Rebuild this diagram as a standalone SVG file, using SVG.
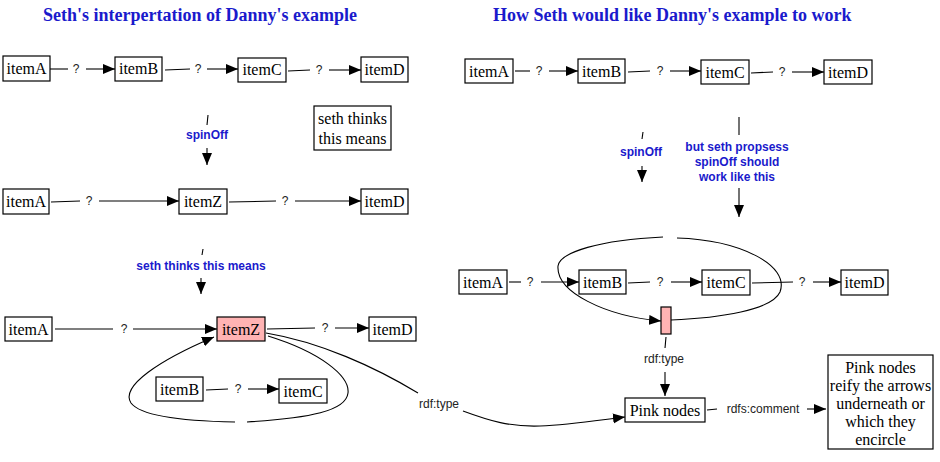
<svg xmlns="http://www.w3.org/2000/svg" width="940" height="462" viewBox="0 0 940 462">
<defs>
<marker id="ah" markerUnits="userSpaceOnUse" markerWidth="13" markerHeight="11" refX="12" refY="5" orient="auto">
<path d="M0,0 L12,5 L0,10 z" fill="#000"/>
</marker>
<style>
.n rect{fill:#fff;stroke:#000;stroke-width:1.2}
.n rect.pink{fill:#ffb3b3}
.n text{font-family:"Liberation Serif","Times New Roman",serif;font-size:16px;fill:#000;text-anchor:middle}
.title{font-family:"Liberation Serif","Times New Roman",serif;font-size:18px;font-weight:bold;fill:#1a1acc}
.c path,.c line{fill:none;stroke:#000;stroke-width:1.1}
.c .a{marker-end:url(#ah)}
.lbl{font-family:"Liberation Sans",Arial,sans-serif;font-size:12px;fill:#222;text-anchor:middle}
.blbl{font-family:"Liberation Sans",Arial,sans-serif;font-size:12px;font-weight:bold;fill:#1a1acc;text-anchor:middle}
</style>
</defs>
<rect width="940" height="462" fill="#fff"/>
<text class="title" x="43" y="21">Seth's interpertation of Danny's example</text>
<text class="title" x="493" y="21">How Seth would like Danny's example to work</text>

<g class="c" id="connectors">
<!-- left row 1 -->
<line x1="50" y1="69" x2="68" y2="69"/><line class="a" x1="86" y1="69" x2="115" y2="69"/>
<line x1="165" y1="70" x2="190" y2="69"/><line class="a" x1="207" y1="69" x2="238" y2="69"/>
<line x1="288" y1="71" x2="310" y2="70"/><line class="a" x1="329" y1="70" x2="361" y2="70"/>
<!-- spinOff left -->
<line x1="208" y1="115" x2="207" y2="125"/><line class="a" x1="207" y1="148" x2="207" y2="165"/>
<!-- left row 2 -->
<line x1="51" y1="202" x2="80" y2="201"/><line class="a" x1="99" y1="201" x2="179" y2="201"/>
<line x1="229" y1="202" x2="276" y2="201"/><line class="a" x1="295" y1="201" x2="361" y2="201"/>
<!-- seth thinks -->
<line x1="203" y1="249" x2="202" y2="255"/><line class="a" x1="201" y1="278" x2="201" y2="294"/>
<!-- left row 3 -->
<line x1="55" y1="329" x2="113" y2="329"/><line class="a" x1="133" y1="329" x2="217" y2="329"/>
<line x1="267" y1="329" x2="315" y2="328"/><line class="a" x1="335" y1="328" x2="369" y2="328"/>
<line x1="206" y1="390" x2="228" y2="389"/><line class="a" x1="248" y1="389" x2="279" y2="389"/>
<!-- loop left -->
<path d="M268,336 C320,352 350,376 348,393 C346,411 310,418 247,422"/>
<path class="a" d="M235,422 C180,421 140,415 131,403 C120,386 160,360 214,337"/>
<!-- rdf:type long -->
<path d="M266,333 C320,342 375,367 418,393"/>
<path class="a" d="M463,411 C490,421 510,427 540,426 C570,425 600,420 625,417"/>
<!-- right row 1 -->
<line x1="515" y1="71" x2="530" y2="71"/><line class="a" x1="549" y1="71" x2="578" y2="71"/>
<line x1="628" y1="72" x2="650" y2="71"/><line class="a" x1="670" y1="71" x2="701" y2="71"/>
<line x1="751" y1="73" x2="773" y2="72"/><line class="a" x1="792" y1="72" x2="824" y2="72"/>
<!-- spinOff right -->
<line x1="643" y1="132" x2="642" y2="139"/><line class="a" x1="642" y1="166" x2="642" y2="182"/>
<line x1="739" y1="117" x2="739" y2="135"/><line class="a" x1="739" y1="188" x2="739" y2="217"/>
<!-- right row 2 -->
<line x1="509" y1="282" x2="521" y2="282"/><line class="a" x1="541" y1="282" x2="579" y2="282"/>
<line x1="628" y1="283" x2="650" y2="282"/><line class="a" x1="671" y1="282" x2="702" y2="282"/>
<line x1="752" y1="283" x2="793" y2="282"/><line class="a" x1="813" y1="282" x2="841" y2="282"/>
<!-- loop right -->
<path d="M671,320 C720,318 772,310 780,292 C790,265 740,240 677,238"/>
<path class="a" d="M663,237 C600,240 560,252 558,266 C556,292 605,316 661,321"/>
<!-- rdf:type right -->
<line x1="666" y1="337" x2="665" y2="348"/><line class="a" x1="665" y1="372" x2="665" y2="396"/>
<!-- rdfs:comment -->
<line x1="707" y1="410" x2="717" y2="409"/><line class="a" x1="807" y1="409" x2="826" y2="409"/>
</g>

<g id="labels">
<text class="lbl" x="76" y="73">?</text>
<text class="lbl" x="198" y="73">?</text>
<text class="lbl" x="319" y="74">?</text>
<text class="blbl" x="207" y="139">spinOff</text>
<text class="lbl" x="89" y="205">?</text>
<text class="lbl" x="285" y="205">?</text>
<text class="blbl" x="201" y="270">seth thinks this means</text>
<text class="lbl" x="124" y="333">?</text>
<text class="lbl" x="325" y="332">?</text>
<text class="lbl" x="238" y="393">?</text>
<text class="lbl" x="439" y="408">rdf:type</text>
<text class="lbl" x="539" y="75">?</text>
<text class="lbl" x="660" y="75">?</text>
<text class="lbl" x="782" y="76">?</text>
<text class="blbl" x="641" y="156">spinOff</text>
<text class="blbl" x="737" y="151">but seth propsess</text>
<text class="blbl" x="737" y="166">spinOff should</text>
<text class="blbl" x="737" y="181">work like this</text>
<text class="lbl" x="530" y="286">?</text>
<text class="lbl" x="660" y="286">?</text>
<text class="lbl" x="802" y="286">?</text>
<text class="lbl" x="664" y="363">rdf:type</text>
<text class="lbl" x="763" y="413">rdfs:comment</text>
</g>

<g class="n" id="L1A"><rect x="3" y="56" width="47" height="25"/><text x="26.5" y="74">itemA</text></g>
<g class="n" id="L1B"><rect x="115" y="57" width="47" height="24"/><text x="138.5" y="74">itemB</text></g>
<g class="n" id="L1C"><rect x="238" y="58" width="48" height="24"/><text x="262" y="75">itemC</text></g>
<g class="n" id="L1D"><rect x="361" y="57" width="47" height="25"/><text x="384.5" y="75">itemD</text></g>
<g class="n" id="sethBox"><rect x="314" y="106" width="77" height="44"/><text x="352.5" y="124">seth thinks</text><text x="352.5" y="144">this means</text></g>
<g class="n" id="L2A"><rect x="3" y="189" width="46" height="25"/><text x="26" y="207">itemA</text></g>
<g class="n" id="L2Z"><rect x="179" y="189" width="48" height="25"/><text x="203" y="207">itemZ</text></g>
<g class="n" id="L2D"><rect x="361" y="189" width="47" height="25"/><text x="384.5" y="207">itemD</text></g>
<g class="n" id="L3A"><rect x="5" y="317" width="47" height="24"/><text x="28.5" y="335">itemA</text></g>
<g class="n" id="L3Z"><rect class="pink" x="217" y="317" width="48" height="24"/><text x="241" y="335">itemZ</text></g>
<g class="n" id="L3D"><rect x="369" y="317" width="47" height="24"/><text x="392.5" y="335">itemD</text></g>
<g class="n" id="L3B"><rect x="156" y="377" width="47" height="24"/><text x="179.5" y="395">itemB</text></g>
<g class="n" id="L3C"><rect x="279" y="379" width="48" height="24"/><text x="303" y="397">itemC</text></g>

<g class="n" id="R1A"><rect x="465" y="59" width="48" height="24"/><text x="489" y="77">itemA</text></g>
<g class="n" id="R1B"><rect x="578" y="59" width="47" height="24"/><text x="601.5" y="77">itemB</text></g>
<g class="n" id="R1C"><rect x="701" y="60" width="48" height="24"/><text x="725" y="78">itemC</text></g>
<g class="n" id="R1D"><rect x="824" y="60" width="48" height="24"/><text x="848" y="78">itemD</text></g>
<g class="n" id="R2A"><rect x="459" y="270" width="48" height="24"/><text x="483" y="288">itemA</text></g>
<g class="n" id="R2B"><rect x="579" y="270" width="47" height="24"/><text x="602.5" y="288">itemB</text></g>
<g class="n" id="R2C"><rect x="702" y="270" width="48" height="25"/><text x="726" y="288">itemC</text></g>
<g class="n" id="R2D"><rect x="841" y="270" width="47" height="25"/><text x="864.5" y="288">itemD</text></g>
<g class="n" id="pinkSmall"><rect class="pink" x="661" y="307" width="10" height="27"/></g>
<g class="n" id="pinkNodes"><rect x="625" y="398" width="80" height="24"/><text x="665" y="416">Pink nodes</text></g>
<g class="n" id="comment"><rect x="828" y="355" width="105" height="94"/>
<text x="880.5" y="373">Pink nodes</text>
<text x="880.5" y="391">reify the arrows</text>
<text x="880.5" y="409">underneath or</text>
<text x="880.5" y="427">which they</text>
<text x="880.5" y="445">encircle</text></g>
</svg>
